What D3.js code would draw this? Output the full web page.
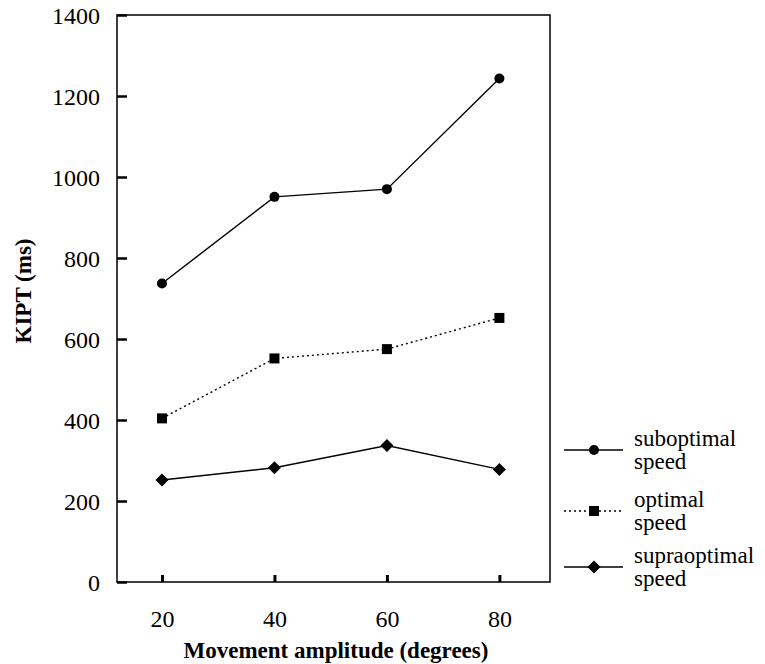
<!DOCTYPE html>
<html>
<head>
<meta charset="utf-8">
<script src="https://cdn.jsdelivr.net/npm/d3@7"></script>
<style>
  body { margin: 0; background: #fff; }
  text { font-family: "Liberation Serif", "Times New Roman", serif; fill: #000; }
</style>
</head>
<body>
<script>
var amplitudes = [20, 40, 60, 80]
var suboptimal = [737, 951, 970, 1243]
var optimal = [404, 552, 575, 652]
var supraoptimal = [252, 282, 337, 278]
var yTicks = [0, 200, 400, 600, 800, 1000, 1200, 1400]

var series = [
  {name: ['suboptimal', 'speed'], values: suboptimal, marker: 'circle', dash: null},
  {name: ['optimal', 'speed'], values: optimal, marker: 'square', dash: '2,3'},
  {name: ['supraoptimal', 'speed'], values: supraoptimal, marker: 'diamond', dash: null}
]

var width = 765
var height = 664
var box = {left: 117, right: 550, top: 15, bottom: 582}

var x = d3.scaleLinear().domain([12, 89]).range([box.left, box.right])
var y = d3.scaleLinear().domain([0, 1400]).range([box.bottom, box.top])

var svg = d3.select('body').append('svg')
  .attr('width', width)
  .attr('height', height)

// frame
svg.append('rect')
  .attr('x', box.left).attr('y', box.top)
  .attr('width', box.right - box.left).attr('height', box.bottom - box.top)
  .attr('fill', 'none').attr('stroke', '#000').attr('stroke-width', 1.5)

// y axis, ticks inward
var yAxis = svg.append('g')
  .attr('transform', `translate(${box.left}, 0)`)
  .call(d3.axisRight(y).tickValues(yTicks).tickSize(10).tickFormat(d3.format('d')))
yAxis.select('.domain').remove()
yAxis.selectAll('line').attr('stroke-width', 2.5)
yAxis.selectAll('text')
  .attr('x', -17)
  .attr('text-anchor', 'end')
  .attr('dy', '0.35em')
  .style('font-size', '24px')
  .style('font-family', '"Liberation Serif", serif')

// x axis, ticks inward
var xAxis = svg.append('g')
  .attr('transform', `translate(0, ${box.bottom})`)
  .call(d3.axisTop(x).tickValues(amplitudes).tickSize(7))
xAxis.select('.domain').remove()
xAxis.selectAll('line').attr('stroke-width', 3)
xAxis.selectAll('text')
  .attr('y', 45)
  .attr('dy', 0)
  .style('font-size', '24px')
  .style('font-family', '"Liberation Serif", serif')

// axis titles
svg.append('text')
  .attr('x', 336)
  .attr('y', 658)
  .attr('text-anchor', 'middle')
  .style('font-size', '23px')
  .style('font-weight', 'bold')
  .text('Movement amplitude (degrees)')

svg.append('text')
  .attr('transform', 'translate(31, 291) rotate(-90)')
  .attr('text-anchor', 'middle')
  .style('font-size', '23px')
  .style('font-weight', 'bold')
  .text('KIPT (ms)')

var line = d3.line()
  .x(function (d, i) { return x(amplitudes[i]) })
  .y(function (d) { return y(d) })

function drawMarker (g, type, cx, cy) {
  if (type === 'circle') {
    g.append('circle').attr('cx', cx).attr('cy', cy).attr('r', 5).attr('fill', '#000')
  } else if (type === 'square') {
    g.append('rect').attr('x', cx - 5).attr('y', cy - 5).attr('width', 10).attr('height', 10).attr('fill', '#000')
  } else {
    g.append('path')
      .attr('d', `M${cx},${cy - 6.5}L${cx + 6.5},${cy}L${cx},${cy + 6.5}L${cx - 6.5},${cy}Z`)
      .attr('fill', '#000')
  }
}

series.forEach(function (s) {
  svg.append('path')
    .datum(s.values)
    .attr('d', line)
    .attr('fill', 'none')
    .attr('stroke', '#000')
    .attr('stroke-width', 1.4)
    .attr('stroke-dasharray', s.dash)
  var g = svg.append('g')
  s.values.forEach(function (v, i) {
    drawMarker(g, s.marker, x(amplitudes[i]), y(v))
  })
})

// legend
var legendY = [450, 511, 567]
series.forEach(function (s, i) {
  var ly = legendY[i]
  var g = svg.append('g')
  g.append('line')
    .attr('x1', 564).attr('x2', 623).attr('y1', ly).attr('y2', ly)
    .attr('stroke', '#000').attr('stroke-width', 1.4)
    .attr('stroke-dasharray', s.dash)
  drawMarker(g, s.marker, 594, ly)
  g.append('text')
    .attr('x', 634).attr('y', ly - 4)
    .style('font-size', '23px')
    .text(s.name[0])
  g.append('text')
    .attr('x', 634).attr('y', ly + 19)
    .style('font-size', '23px')
    .text(s.name[1])
})
</script>
</body>
</html>
